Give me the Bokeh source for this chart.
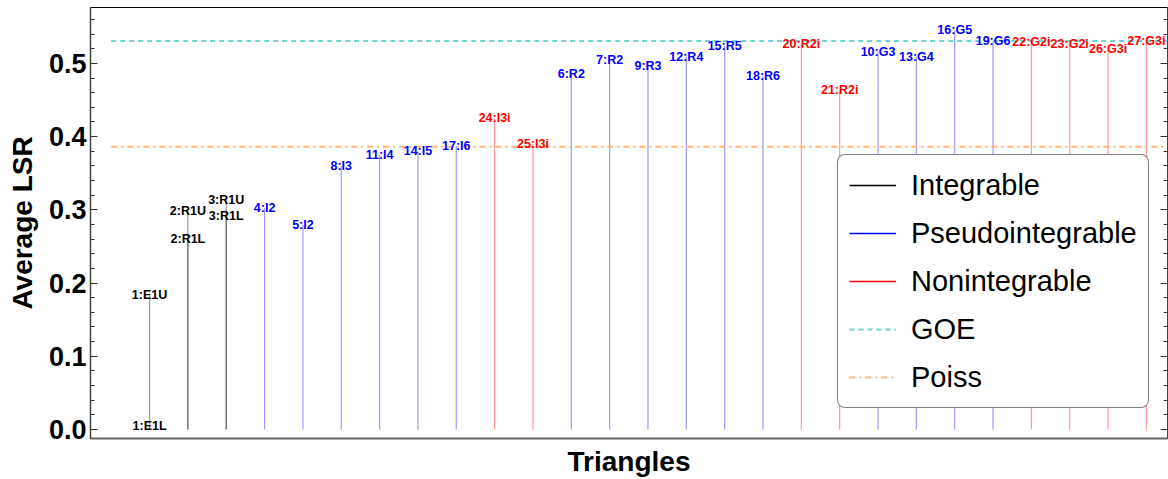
from bokeh.plotting import figure
from bokeh.models import (ColumnDataSource, FixedTicker, LinearAxis, Legend, LegendItem,
                          PrintfTickFormatter, CustomJSTickFormatter)
from bokeh.core.properties import value
from bokeh.embed import file_html
from bokeh.resources import INLINE

# ---- data ----
labels = ["1:E1U", "1:E1L", "2:R1U", "2:R1L", "3:R1U", "3:R1L", "4:I2", "5:I2", "8:I3",
          "11:I4", "14:I5", "17:I6", "24:I3i", "25:I3i", "6:R2", "7:R2", "9:R3", "12:R4",
          "15:R5", "18:R6", "20:R2i", "21:R2i", "10:G3", "13:G4", "16:G5", "19:G6",
          "22:G2i", "23:G2i", "26:G3i", "27:G3i"]
positions = [1, 1, 2, 2, 3, 3, 4, 5, 6, 7, 8, 9, 10, 11, 12, 13, 14, 15, 16, 17, 18, 19,
             20, 21, 22, 23, 24, 25, 26, 27]
lsr = [0.183, 0.005, 0.298, 0.260, 0.313, 0.292, 0.302, 0.279, 0.360, 0.375, 0.380, 0.387,
       0.425, 0.390, 0.485, 0.504, 0.496, 0.509, 0.524, 0.483, 0.526, 0.463, 0.516, 0.509,
       0.545, 0.531, 0.529, 0.526, 0.520, 0.531]
classes = ["Integrable"] * 6 + ["Pseudointegrable"] * 6 + ["Nonintegrable"] * 2 + \
          ["Pseudointegrable"] * 6 + ["Nonintegrable"] * 2 + ["Pseudointegrable"] * 4 + \
          ["Nonintegrable"] * 4
goe_value = 0.5307
poisson_value = 0.3863
y_ticks = [0.0, 0.1, 0.2, 0.3, 0.4, 0.5]
y_minor_ticks = [i * 0.02 for i in range(0, 29)]

class_colors = {"Integrable": "black", "Pseudointegrable": "#0000ff", "Nonintegrable": "#ff0000"}
colors = [class_colors[c] for c in classes]

src = ColumnDataSource(dict(x=positions, y=lsr, label=labels, color=colors))

FONT = "Liberation Sans"

p = figure(width=1168, height=479, x_range=(-0.54, 27.55), y_range=(-0.0123, 0.5763),
           output_backend="svg", toolbar_location=None,
           min_border_left=90, min_border_right=1, min_border_top=7, min_border_bottom=40)
p.grid.visible = False
p.background_fill_color = "white"
p.border_fill_color = "white"
p.outline_line_color = "black"
p.outline_line_width = 1

# stems
p.segment(x0="x", y0=0, x1="x", y1="y", line_color="color", line_alpha=0.4,
          line_width=1.2, source=src)

# reference lines
goe_r = p.line(x=[0, 28], y=[goe_value, goe_value], line_color="#6fd3d3",
               line_width=2, line_dash="5 4")
poi_r = p.line(x=[0, 28], y=[poisson_value, poisson_value], line_color="#ffb57a",
               line_width=2, line_dash="6 4 2 4")

# labels
p.text(x="x", y="y", text="label", text_color="color", source=src,
       text_font=value(FONT), text_font_style="bold", text_font_size="12.5px",
       text_align="center", text_baseline="middle")

# legend dummy renderers
nan = float("nan")
r_int = p.line(x=[nan], y=[nan], line_color="black", line_width=1.5)
r_pse = p.line(x=[nan], y=[nan], line_color="#0000ff", line_width=1.5)
r_non = p.line(x=[nan], y=[nan], line_color="#ff0000", line_width=1.5)

legend = Legend(items=[LegendItem(label="Integrable", renderers=[r_int]),
                       LegendItem(label="Pseudointegrable", renderers=[r_pse]),
                       LegendItem(label="Nonintegrable", renderers=[r_non]),
                       LegendItem(label="GOE", renderers=[goe_r]),
                       LegendItem(label="Poiss", renderers=[poi_r])],
                location=(747, 30))
legend.label_text_font = FONT
legend.label_text_font_size = "29px"
legend.label_text_color = "black"
legend.glyph_width = 47
legend.glyph_height = 38
legend.label_height = 38
legend.spacing = 10
legend.padding = 11
legend.margin = 0
legend.label_standoff = 15
legend.border_line_color = "black"
legend.border_line_width = 1.5
legend.background_fill_color = "white"
legend.background_fill_alpha = 1
try:
    legend.border_radius = 8
except Exception:
    pass
p.add_layout(legend, "center")

# y axis
p.yaxis.ticker = FixedTicker(ticks=y_ticks, minor_ticks=y_minor_ticks)
p.yaxis.formatter = PrintfTickFormatter(format="%.1f")
p.yaxis.major_label_text_font = FONT
p.yaxis.major_label_text_font_style = "bold"
p.yaxis.major_label_text_font_size = "27px"
p.yaxis.major_label_text_color = "black"
p.yaxis.major_label_standoff = 4
p.yaxis.major_tick_in = 7
p.yaxis.major_tick_out = 0
p.yaxis.minor_tick_in = 4
p.yaxis.minor_tick_out = 0
p.yaxis.major_tick_line_color = "#333333"
p.yaxis.minor_tick_line_color = "#333333"
p.yaxis.axis_line_color = "#444444"
p.yaxis.axis_line_width = 1.5
p.yaxis.axis_label = "Average LSR"
p.yaxis.axis_label_text_font = FONT
p.yaxis.axis_label_text_font_style = "bold"
p.yaxis.axis_label_text_font_size = "28px"
p.yaxis.axis_label_text_color = "black"
p.yaxis.axis_label_standoff = 8

ry = LinearAxis(ticker=FixedTicker(ticks=y_ticks, minor_ticks=y_minor_ticks),
                formatter=CustomJSTickFormatter(code="return ''"))
ry.major_label_standoff = 0
ry.major_tick_in = 7
ry.major_tick_out = 0
ry.minor_tick_in = 4
ry.minor_tick_out = 0
ry.major_tick_line_color = "#333333"
ry.minor_tick_line_color = "#333333"
ry.axis_line_color = "#444444"
p.add_layout(ry, "right")

# x axis
p.xaxis.ticker = FixedTicker(ticks=[])
p.xaxis.major_label_text_font_size = "0px"
p.xaxis.major_label_standoff = 0
p.xaxis.major_tick_in = 0
p.xaxis.major_tick_out = 0
p.xaxis.minor_tick_in = 0
p.xaxis.minor_tick_out = 0
p.xaxis.axis_line_color = "#666666"
p.xaxis.axis_line_width = 2
p.xaxis.axis_label = "Triangles"
p.xaxis.axis_label_text_font = FONT
p.xaxis.axis_label_text_font_style = "bold"
p.xaxis.axis_label_text_font_size = "28px"
p.xaxis.axis_label_text_color = "black"
p.xaxis.axis_label_standoff = 7

open("out.html", "w").write(file_html(p, INLINE))
